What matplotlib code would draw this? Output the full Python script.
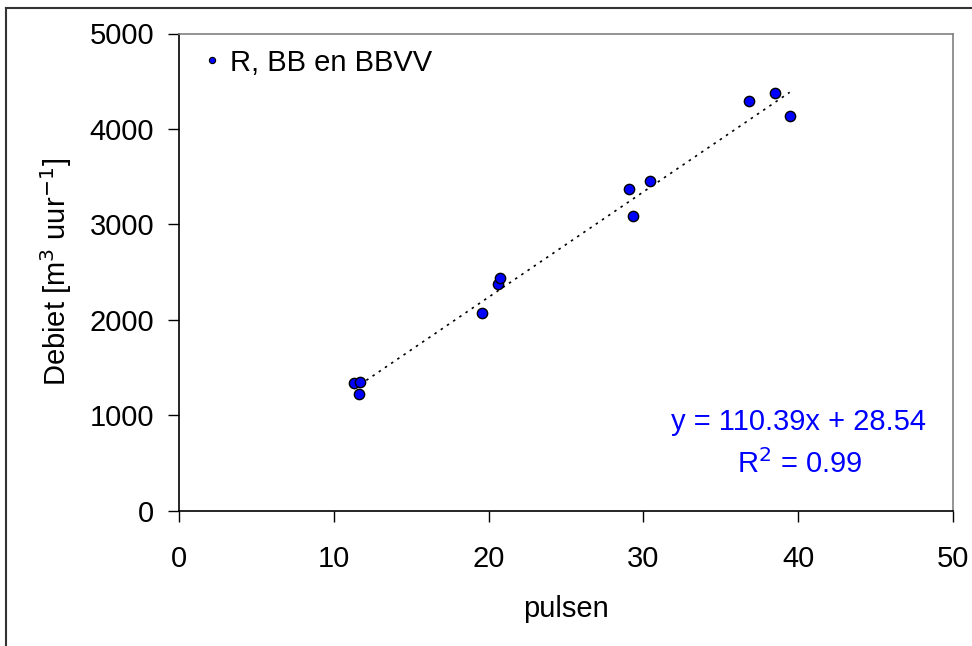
import matplotlib
matplotlib.use("Agg")
import matplotlib.pyplot as plt
from matplotlib.lines import Line2D
import numpy as np

plt.rcParams['font.family'] = ['Liberation Sans', 'DejaVu Sans']

pulsen = [11.3, 11.7, 11.65, 19.55, 20.6, 20.75, 29.1, 29.3, 30.4, 36.8, 38.5, 39.45]
debiet = [1335, 1350, 1225, 2065, 2370, 2435, 3370, 3085, 3455, 4290, 4375, 4135]
slope = 110.39
intercept = 28.54
series_label = "R, BB en BBVV"
eq_text = "y = 110.39x + 28.54"
r2_text = "R$^2$ = 0.99"
x_ticks = [0, 10, 20, 30, 40, 50]
y_ticks = [0, 1000, 2000, 3000, 4000, 5000]

FS = 21

fig = plt.figure(figsize=(9.72, 6.46), dpi=100)
ax = fig.add_axes([179/972, 1-510.5/646, (953-179)/972, (510.5-33.5)/646])

xfit = np.array([min(pulsen), max(pulsen)])
ax.plot(xfit, slope*xfit + intercept, color='black', linestyle=(0, (1.5, 3)), lw=1.2, zorder=2)
ax.scatter(pulsen, debiet, s=55, color='#0000FF', edgecolors='black', linewidths=1.0, zorder=3)

ax.set_xlim(0, 50)
ax.set_ylim(0, 5000)
ax.set_xticks(x_ticks)
ax.set_yticks(y_ticks)
ax.tick_params(direction='out', length=8, width=1, labelsize=FS)
ax.tick_params(axis='x', pad=17)
ax.tick_params(axis='y', pad=10)
for s in ['left', 'bottom']:
    ax.spines[s].set_color('black')
    ax.spines[s].set_linewidth(1.2)
for s in ['top', 'right']:
    ax.spines[s].set_color('#808080')
    ax.spines[s].set_linewidth(1.2)

ax.set_xlabel('pulsen', fontsize=FS, labelpad=16)
ax.set_ylabel('Debiet [m$^3$ uur$^{-1}$]', fontsize=FS, labelpad=11)

handle = Line2D([], [], marker='o', linestyle='none', markersize=4.5,
                markerfacecolor='#0000FF', markeredgecolor='black', markeredgewidth=0.8)
ax.legend([handle], [series_label], loc='upper left', frameon=False, fontsize=FS,
          handlelength=0.5, handletextpad=0.4, borderaxespad=0.2,
          bbox_to_anchor=(0.01, 1.005))

fig.text(798.5/972, 1-422/646, eq_text, fontsize=FS, color='#0000FF', ha='center', va='center')
fig.text(800/972, 1-464/646, r2_text, fontsize=FS, color='#0000FF', ha='center', va='center')

fig.add_artist(Line2D([5.5/972, 5.5/972], [0, 1-7.5/646], transform=fig.transFigure, color='#333333', lw=1.5))
fig.add_artist(Line2D([5.5/972, 1], [1-7.5/646, 1-7.5/646], transform=fig.transFigure, color='#333333', lw=1.5))

fig.savefig('out.png', dpi=100)
